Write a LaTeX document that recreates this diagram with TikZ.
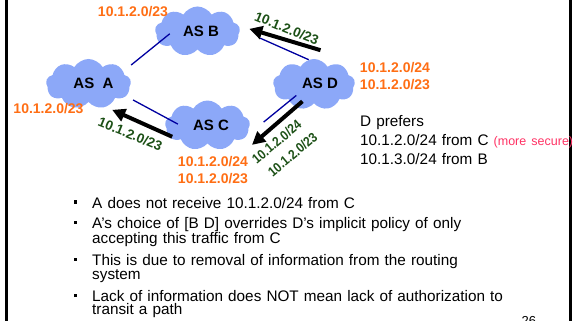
\documentclass[tikz,border=0pt]{standalone}
\usepackage{fontspec}
\setmainfont{Liberation Sans}
\usetikzlibrary{shapes.symbols,arrows.meta}

\definecolor{asblue}{RGB}{140,168,248}
\definecolor{linkblue}{RGB}{0,0,160}
\definecolor{pfxorange}{RGB}{255,110,20}
\definecolor{annogreen}{RGB}{28,80,22}
\definecolor{notered}{RGB}{255,50,100}
\newcommand{\sqbullet}{\makebox[0pt][r]{\rule[4.5pt]{3.3pt}{3.3pt}\hspace{15pt}}}
\setlength{\lineskiplimit}{-20pt}

\begin{document}
\begin{tikzpicture}[x=1pt,y=-1pt,
    ascloud/.style={cloud, cloud puffs=9, cloud puff arc=120, cloud ignores aspect, fill=asblue, minimum width=85pt, minimum height=50pt, inner sep=0pt},
    asname/.style={font=\fontsize{15}{18}\selectfont\bfseries, inner sep=0pt},
    link/.style={linkblue, line width=1.3pt},
    route/.style={line width=4pt, -{Triangle[length=13pt,width=13pt]}},
    pfxlabel/.style={pfxorange, font=\fontsize{14}{17}\selectfont\bfseries, inner sep=0pt},
    announce/.style={annogreen, font=\fontsize{13.5}{16}\selectfont\bfseries, inner sep=0pt},
    bulletpt/.style={anchor=base west, inner sep=0pt, text width=480pt, align=left, font=\fontsize{15.3}{12.6}\selectfont}]
            \useasboundingbox (0,0) rectangle (579,321);
            \draw[line width=2.6pt] (6.5,0) -- (6.5,321);
            \draw[line width=3pt] (570,0) -- (570,321);

            \node[ascloud] (cA) at (88.5,84) {};
            \node[ascloud] (cB) at (197.5,31.5) {};
            \node[ascloud] (cC) at (207.5,125.5) {};
            \node[ascloud, minimum width=82pt, minimum height=51pt] (cD) at (314,84.5) {};
            \node[asname] (nA) at (93.5,83) {AS\ \ A};
            \node[asname] (nB) at (201,31.5) {AS B};
            \node[asname] (nC) at (211,125) {AS C};
            \node[asname] (nD) at (320,83) {AS D};

            \draw[link, shorten <=10pt, shorten >=-14pt] (cA.20) -- (cB.196);
            \draw[link, shorten <=8pt, shorten >=-12pt] (cA.-18) -- (cC.170);
            \draw[link, shorten <=22pt] (cB.3) -- (cD.102);
            \draw[link, shorten <=22pt, shorten >=-9pt] (cC.-15) -- (cD.214);
            \draw[route, shorten <=-5pt, shorten >=7pt] (cC.193) -- (cA.-53);
            \draw[route, shorten >=11pt] ([yshift=10pt]cD.75) -- (cB.8);
            \draw[route, shorten <=-9pt, shorten >=11pt] (cD.231) -- ([yshift=-13.4pt]cC.-20);

            \node[pfxlabel] (pB) at (133,11.5) {10.1.2.0/23};
            \node[pfxlabel] (pA) at (48.5,109) {10.1.2.0/23};
            \node[pfxlabel] (pC1) at (213,161.2) {10.1.2.0/24};
            \node[pfxlabel] (pC2) at (213,178.8) {10.1.2.0/23};
            \node[pfxlabel] (pD1) at (395,67.3) {10.1.2.0/24};
            \node[pfxlabel] (pD2) at (395,85) {10.1.2.0/23};

            \node[announce, rotate=-22] (gCA) at (130.3,134) {10.1.2.0/23};
            \node[announce, rotate=-22] (gDB) at (286.7,28.3) {10.1.2.0/23};
            \node[announce, rotate=40, xscale=.88] (gDC1) at (276.7,141.8) {10.1.2.0/24};
            \node[announce, rotate=40, xscale=.88] (gDC2) at (292.5,154.5) {10.1.2.0/23};

            \node[anchor=base west, inner sep=0pt, align=left, text width=230pt, font=\fontsize{15.3}{19}\selectfont] (pref) at (360,127) {D prefers\\10.1.2.0/24 from C {\color{notered}\fontsize{12.5}{19}\selectfont(more secure)}\\10.1.3.0/24 from B};

            \node[bulletpt] (pt1) at (92,208.3) {\sqbullet A does not receive 10.1.2.0/24 from C};
            \node[bulletpt] (pt2) at (92,228.3) {\sqbullet A’s choice of [B D] overrides D’s implicit policy of only\\accepting this traffic from C};
            \node[bulletpt] (pt3) at (92,265.4) {\sqbullet This is due to removal of information from the routing\\system};
            \node[bulletpt] (pt4) at (92,301.6) {\sqbullet Lack of information does NOT mean lack of authorization to\\transit a path};
            \node[anchor=base west, inner sep=0pt, font=\fontsize{13}{15}\selectfont] (pgno) at (521.5,325) {26};
    \end{tikzpicture}
\end{document}
